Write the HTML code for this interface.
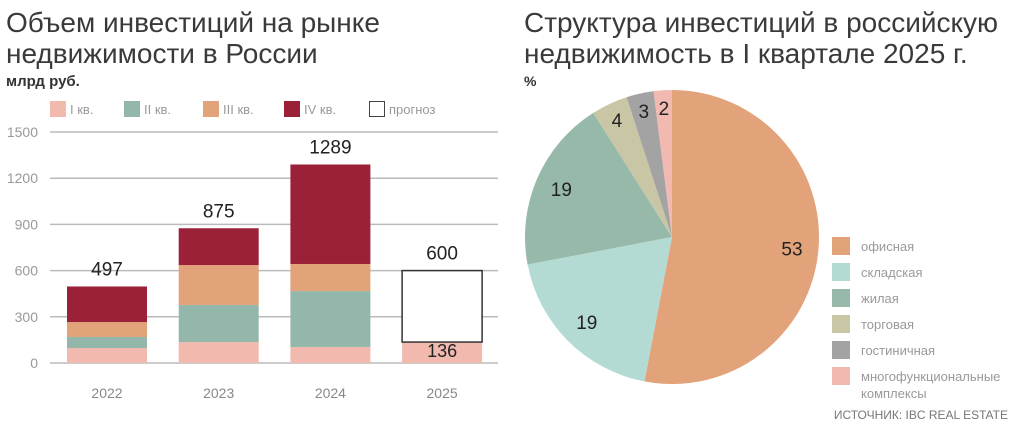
<!DOCTYPE html>
<html><head><meta charset="utf-8"><style>
body{margin:0;width:1024px;height:433px;background:#fff;overflow:hidden;font-family:"Liberation Sans","DejaVu Sans",sans-serif}
svg{position:absolute;left:0;top:0}
</style></head><body>
<svg id="c" width="1024" height="433">
<text x="6" y="32" font-size="28" fill="#3a3a3a">Объем инвестиций на рынке</text>
<text x="6" y="63" font-size="28" fill="#3a3a3a">недвижимости в России</text>
<text x="6" y="86" font-size="15" font-weight="bold" fill="#333">млрд руб.</text>
<text x="524" y="32" font-size="28" fill="#3a3a3a">Структура инвестиций в российскую</text>
<text x="524" y="63" font-size="28" fill="#3a3a3a">недвижимость в I квартале 2025 г.</text>
<text x="524" y="86" font-size="14" font-weight="bold" fill="#333">%</text>
<text x="1008" y="419" font-size="12" fill="#777" text-anchor="end">ИСТОЧНИК: IBC REAL ESTATE</text>
<g id="bars"></g><g id="pie"></g>
</svg>
<script>
const years=["2022","2023","2024","2025"];
const q1=[97,136,104,136];
const q2=[72,241,363,0];
const q3=[97,259,176,0];
const q4=[231,239,646,0];
const totals=[497,875,1289,600];
const forecast=[0,0,0,464];
const yTicks=[0,300,600,900,1200,1500];
const qNames=["I кв.","II кв.","III кв.","IV кв.","прогноз"];
const pieValues=[53,19,19,4,3,2];
const pieNames=["офисная","складская","жилая","торговая","гостиничная","многофункциональные комплексы"];
const NS="http://www.w3.org/2000/svg";
function mk(p,t,a,txt){const e=document.createElementNS(NS,t);for(const k in a)e.setAttribute(k,a[k]);if(txt!==undefined)e.textContent=txt;p.appendChild(e);return e;}
const B=document.getElementById('bars');
const y=v=>363-v*231/1500;
const xc=i=>107+i*111.7;
yTicks.forEach(t=>{
 const l=mk(B,'line',{x1:50,x2:498,y1:y(t),y2:y(t),stroke:'#bbb','stroke-width':1.5});
 
 
 const tx=mk(B,'text',{x:38,y:y(t)+5,'font-size':14,fill:'#999','text-anchor':'end'},t);
 
 
});
const cols=['#f2b9ae','#93b8ab','#e2a27a','#9b2139'];
const series=[q1,q2,q3,q4];
years.forEach((yr,i)=>{
 let base=0;
 series.forEach((s,k)=>{
  if(s[i]>0){const r=mk(B,'rect',{x:xc(i)-40,y:y(base+s[i]),width:80,height:y(base)-y(base+s[i]),fill:cols[k]});
  
  }
  base+=s[i];
 });
 if(forecast[i]>0){const r=mk(B,'rect',{x:xc(i)-40,y:y(base+forecast[i]),width:80,height:y(base)-y(base+forecast[i]),fill:'#fff',stroke:'#333','stroke-width':1.5});
 
 
 const lt=mk(B,'text',{x:xc(i),y:y(base)+15,'font-size':18,fill:'#222','text-anchor':'middle'},q1[i]);
 
 }
 const tl=mk(B,'text',{x:xc(i),y:y(totals[i])-11,'font-size':19,fill:'#222','text-anchor':'middle'},totals[i]);
 
 
 const xl=mk(B,'text',{x:xc(i),y:398,'font-size':14,fill:'#888','text-anchor':'middle'},yr);
 
 
});
const lx=[50,124,203,284,369];
qNames.forEach((n,k)=>{
 const r=mk(B,'rect',k<4?{x:lx[k],y:101,width:16,height:16,fill:cols[k]}:{x:lx[k]+0.5,y:101.5,width:15,height:15,fill:'#fff',stroke:'#444'});
 
 
 const t=mk(B,'text',{x:lx[k]+20,y:114,'font-size':13,fill:'#999'},n);
 
 
});
const P=document.getElementById('pie');
const pc=['#e2a27a','#b4dbd3','#96b9a9','#c9c6a6','#a3a3a3','#f2b9b0'];
const cx=672,cy=237,R=147;
const tot=pieValues.reduce((a,b)=>a+b,0);
let a0=0;
pieValues.forEach((v,k)=>{
 const a1=a0+v/tot*2*Math.PI;
 const p=(a)=>[cx+R*Math.sin(a),cy-R*Math.cos(a)];
 const [x0,y0]=p(a0),[x1,y1]=p(a1);
 const s=mk(P,'path',{d:`M${cx},${cy}L${x0},${y0}A${R},${R} 0 ${a1-a0>Math.PI?1:0} 1 ${x1},${y1}Z`,fill:pc[k]});
 
 
 const am=(a0+a1)/2, rr=k>=3?R*0.88:R*0.82;
 const t=mk(P,'text',{x:cx+rr*Math.sin(am),y:cy-rr*Math.cos(am)+7,'font-size':19,fill:'#222','text-anchor':'middle'},v);
 
 
 a0=a1;
});
pieNames.forEach((n,k)=>{
 const yy=237+k*26;
 const r=mk(P,'rect',{x:832,y:yy,width:18,height:18,fill:pc[k]});
 
 
 if(k===5){
  const t=mk(P,'text',{x:861,y:yy+14,'font-size':13,fill:'#999'},'многофункциональные');
  
  
  const t2=mk(P,'text',{x:861,y:yy+31,'font-size':13,fill:'#999'},'комплексы');
  
  
 } else {
  const t=mk(P,'text',{x:861,y:yy+14,'font-size':13,fill:'#999'},n);
  
  
 }
});
</script>
</body></html>
